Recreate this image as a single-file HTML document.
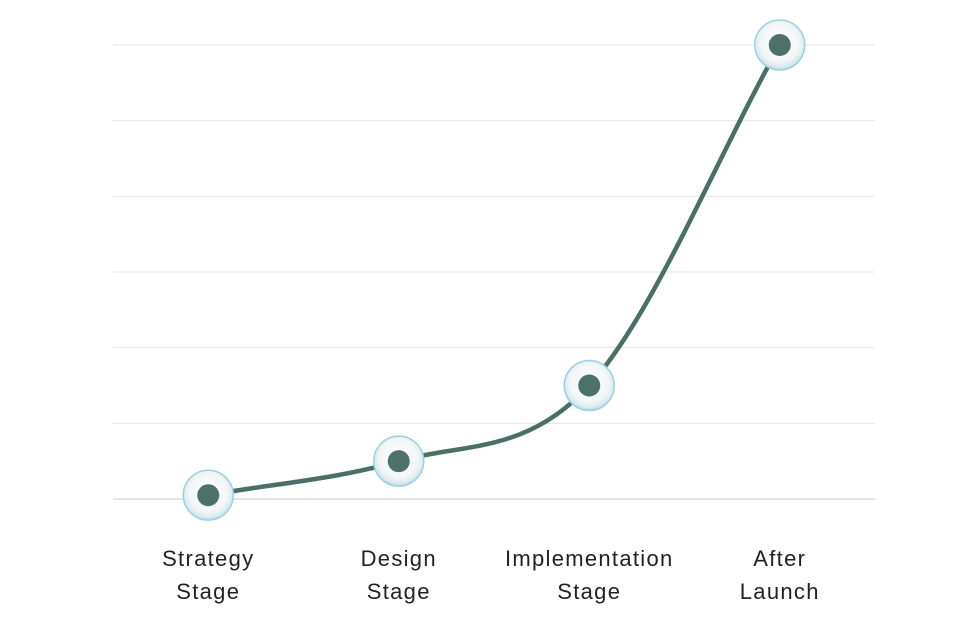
<!DOCTYPE html>
<html><head><meta charset="utf-8"><style>
body{margin:0;background:#fff;}
svg{display:block;font-family:"Liberation Sans",sans-serif;}
</style></head><body>
<svg id="chart" width="962" height="636">
<defs>
<radialGradient id="glass" cx="50%" cy="45%" r="55%">
<stop offset="0%" stop-color="#ffffff"/>
<stop offset="70%" stop-color="#f2f6f7"/>
<stop offset="90%" stop-color="#d9e9ee"/>
<stop offset="100%" stop-color="#a9d3e3"/>
</radialGradient>
</defs>
<g id="grid"></g>
<g id="xlabels"></g>
<path id="line" fill="none" stroke="#4a6f68" stroke-width="4.5" stroke-linecap="round"/>
<g id="points"></g>
</svg>
<script>
const categories = [["Strategy","Stage"],["Design","Stage"],["Implementation","Stage"],["After","Launch"]];
const values = [0.05, 0.5, 1.5, 6];
const yTicks = [0,1,2,3,4,5,6];
const NS="http://www.w3.org/2000/svg";
const L=113,R=875,T=45,B=499,yMax=6;
const bw=(R-L)/categories.length;
const xs=i=>L+bw*(i+0.5);
const ys=v=>B-(v/yMax)*(B-T);
function mk(t,a,p){const e=document.createElementNS(NS,t);for(const k in a)e.setAttribute(k,a[k]);p.appendChild(e);return e;}
const grid=document.getElementById('grid');
yTicks.forEach(t=>{const l=mk('line',{x1:L,x2:R,y1:ys(t),y2:ys(t),stroke:t===0?'#c8c8c8':'#e6e6e6','stroke-width':1},grid);

});
const xl=document.getElementById('xlabels');
categories.forEach((c,i)=>{c.forEach((w,j)=>{const t=mk('text',{x:xs(i),y:566+j*33,'text-anchor':'middle','font-size':22,fill:'#222','letter-spacing':'1.3'},xl);t.textContent=w;

});});
const P=values.map((v,i)=>[xs(i),ys(v)]);
const n=P.length,d=[],m=[];
for(let i=0;i<n-1;i++)d.push((P[i+1][1]-P[i][1])/(P[i+1][0]-P[i][0]));
m[0]=d[0];m[n-1]=d[n-2];
for(let i=1;i<n-1;i++){m[i]=d[i-1]*d[i]<=0?0:(d[i-1]+d[i])/2;}
for(let i=0;i<n-1;i++){if(d[i]===0){m[i]=m[i+1]=0;continue;}const a=m[i]/d[i],b=m[i+1]/d[i],s=a*a+b*b;if(s>9){const t=3/Math.sqrt(s);m[i]=t*a*d[i];m[i+1]=t*b*d[i];}}
let path='M'+P[0][0]+','+P[0][1];
for(let i=0;i<n-1;i++){const h=(P[i+1][0]-P[i][0])/3;path+=` C${P[i][0]+h},${P[i][1]+m[i]*h} ${P[i+1][0]-h},${P[i+1][1]-m[i+1]*h} ${P[i+1][0]},${P[i+1][1]}`;}
document.getElementById('line').setAttribute('d',path);
const pts=document.getElementById('points');
P.forEach((p,i)=>{const g=mk('g',{},pts);


mk('circle',{cx:p[0],cy:p[1],r:25,fill:'url(#glass)',stroke:'#9fd0e2','stroke-width':1.5},g);
mk('circle',{cx:p[0],cy:p[1],r:11,fill:'#4d7068'},g);});
</script>
</body></html>
